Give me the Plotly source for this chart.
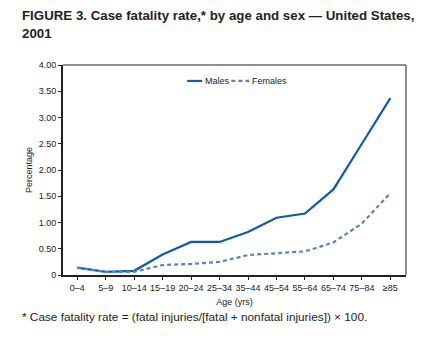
import plotly.graph_objects as go

age_groups = ["0–4", "5–9", "10–14", "15–19", "20–24", "25–34", "35–44",
              "45–54", "55–64", "65–74", "75–84", "≥85"]
males = [0.14, 0.06, 0.08, 0.39, 0.63, 0.63, 0.82, 1.09, 1.17, 1.63, 2.50, 3.37]
females = [0.14, 0.06, 0.06, 0.19, 0.21, 0.25, 0.38, 0.42, 0.45, 0.62, 0.98, 1.56]
y_ticks = [0, 0.5, 1.0, 1.5, 2.0, 2.5, 3.0, 3.5, 4.0]
y_ticktext = ["0", "0.50", "1.00", "1.50", "2.00", "2.50", "3.00", "3.50", "4.00"]

FONT = "Liberation Sans, Arial, sans-serif"
MALE_C = "#0b5cab"
FEMALE_C = "#5585c8"
x_idx = list(range(len(age_groups)))

fig = go.Figure()
fig.add_trace(go.Scatter(x=x_idx, y=males, mode="lines", name="Males",
                         line=dict(color=MALE_C, width=2.2)))
fig.add_trace(go.Scatter(x=x_idx, y=females, mode="lines", name="Females",
                         line=dict(color=FEMALE_C, width=2.2, dash="4px,3px")))

fig.update_layout(
    width=426, height=339,
    margin=dict(l=63, r=20, t=65, b=64),
    paper_bgcolor="white", plot_bgcolor="white",
    font=dict(family=FONT, color="#222222", size=9),
    showlegend=False,
    xaxis=dict(range=[-0.5, 11.55], tickmode="array", tickvals=x_idx,
               ticktext=age_groups, ticks="outside", ticklen=3, tickwidth=1,
               tickcolor="#222", showgrid=False, zeroline=False,
               showline=True, linecolor="#222", linewidth=2, mirror=False,
               tickfont=dict(size=9, family=FONT),
               title=dict(text="Age (yrs)", font=dict(size=9, family=FONT), standoff=7)),
    yaxis=dict(range=[0, 4.0], tickmode="array", tickvals=y_ticks,
               ticktext=y_ticktext, ticks="outside", ticklen=3, tickwidth=1,
               tickcolor="#222", showgrid=False, zeroline=False,
               showline=True, linecolor="#222", linewidth=2,
               tickfont=dict(size=9, family=FONT),
               title=dict(text="Percentage", font=dict(size=9, family=FONT), standoff=5)),
)

# thin top and right border
fig.add_shape(type="line", xref="paper", yref="paper", x0=0, x1=1, y0=1, y1=1,
              line=dict(color="#222", width=1))
fig.add_shape(type="line", xref="paper", yref="paper", x0=1, x1=1, y0=0, y1=1,
              line=dict(color="#222", width=1))

# manual legend
LY = 0.924
fig.add_shape(type="line", xref="paper", yref="paper", x0=0.362, x1=0.406, y0=LY, y1=LY,
              line=dict(color=MALE_C, width=2.2))
fig.add_annotation(text="Males", xref="paper", yref="paper", x=0.408, y=LY,
                   xanchor="left", yanchor="middle", showarrow=False,
                   font=dict(size=9, family=FONT, color="#222"))
fig.add_shape(type="line", xref="paper", yref="paper", x0=0.491, x1=0.543, y0=LY, y1=LY,
              line=dict(color=FEMALE_C, width=2.2, dash="4px,3px"))
fig.add_annotation(text="Females", xref="paper", yref="paper", x=0.545, y=LY,
                   xanchor="left", yanchor="middle", showarrow=False,
                   font=dict(size=9, family=FONT, color="#222"))

fig.add_annotation(text="<b>FIGURE 3. Case fatality rate,* by age and sex — United States,</b>",
                   xref="paper", yref="paper", x=0, y=1.238, xshift=-43,
                   xanchor="left", yanchor="middle", align="left", showarrow=False,
                   font=dict(size=13.3, family=FONT, color="#222"))
fig.add_annotation(text="<b>2001</b>",
                   xref="paper", yref="paper", x=0, y=1.152, xshift=-43,
                   xanchor="left", yanchor="middle", align="left", showarrow=False,
                   font=dict(size=13.3, family=FONT, color="#222"))
fig.add_annotation(text="* Case fatality rate = (fatal injuries/[fatal + nonfatal injuries]) × 100.",
                   xref="paper", yref="paper", x=0, y=-0.2, xshift=-43,
                   xanchor="left", yanchor="middle", align="left", showarrow=False,
                   font=dict(size=11.8, family=FONT, color="#222"))

fig.write_html("out.html")
